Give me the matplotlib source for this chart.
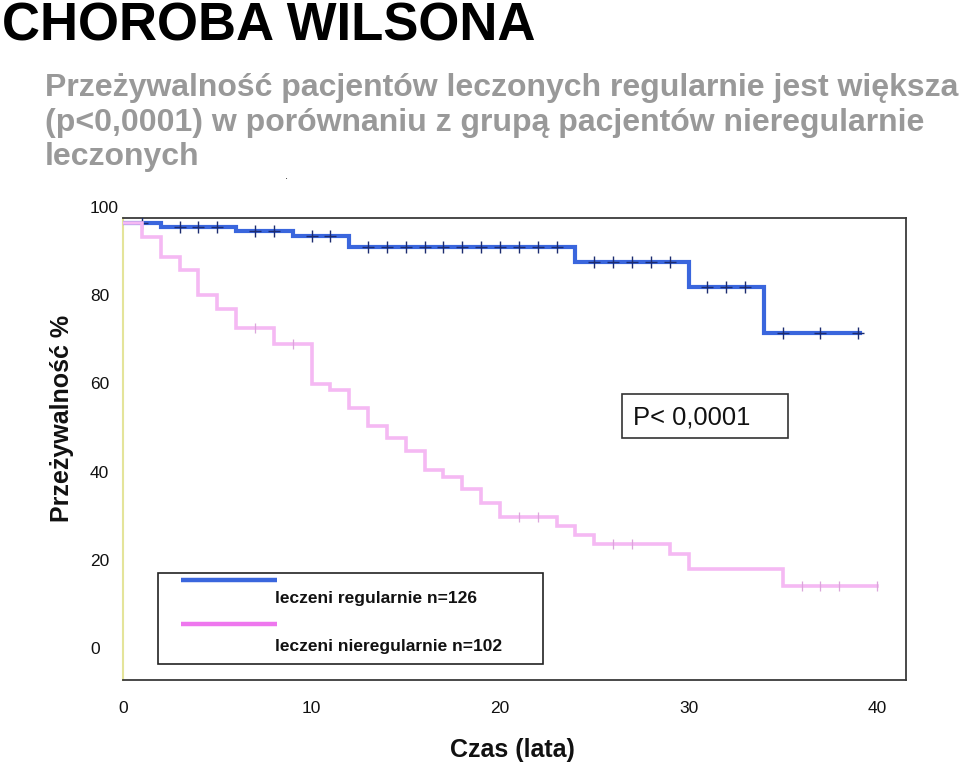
import numpy as np
import matplotlib
matplotlib.use("Agg")
import matplotlib.pyplot as plt
from matplotlib.transforms import ScaledTranslation
from matplotlib.patches import Rectangle
from matplotlib.lines import Line2D

# ---------------- data ----------------
# leczeni regularnie (n=126)
reg_times = [0, 2, 6, 9, 12, 24, 30, 34]
reg_surv = [100, 99.2, 98.2, 97.1, 94.6, 91.2, 85.5, 75.1]
reg_end = 39.1
reg_censor = [1, 3, 4, 5, 7, 8, 10, 11, 13, 14, 15, 16, 17, 18, 19, 20, 21, 22, 23,
              25, 26, 27, 28, 29, 31, 32, 33, 35, 37, 39]

# leczeni nieregularnie (n=102)
irr_times = [0, 1, 2, 3, 4, 5, 6, 8, 10, 11, 12, 13, 14, 15, 16, 17, 18, 19, 20,
             23, 24, 25, 29, 30, 35]
irr_surv = [100, 96.8, 92.4, 89.3, 83.7, 80.5, 76.3, 72.5, 63.5, 62.1, 58.0, 54.0,
            51.2, 48.4, 44.0, 42.5, 39.6, 36.6, 33.4, 31.4, 29.3, 27.3, 24.9, 21.6, 17.8]
irr_end = 40
irr_censor = [7, 9, 21, 22, 26, 27, 36, 37, 38, 40]

x_ticks = [0, 10, 20, 30, 40]
y_ticks = [0, 20, 40, 60, 80, 100]

title = "CHOROBA WILSONA"
subtitle = ["Przeżywalność pacjentów leczonych regularnie jest większa",
            "(p<0,0001) w porównaniu z grupą pacjentów nieregularnie",
            "leczonych"]
legend_labels = ["leczeni regularnie n=126", "leczeni nieregularnie n=102"]
p_text = "P< 0,0001"
xlabel = "Czas (lata)"
ylabel = "Przeżywalność %"

BLUE = "#3a66dd"
PINK_LINE = "#f5b9f3"
PINK_LEG = "#ee77ee"

plt.rcParams['font.family'] = ['Liberation Sans', 'DejaVu Sans']

W, H = 960, 764
fig = plt.figure(figsize=(W / 100, H / 100), dpi=100)

# axes frame in pixel terms
L, R, T, B = 123, 906, 218, 680
ax = fig.add_axes([L / W, 1 - B / H, (R - L) / W, (B - T) / H])

px_per_year = 18.85
px_per_pct = 4.41
y100_px = 223
ax.set_xlim(0, (R - L) / px_per_year)
ax.set_ylim(100 - (B - y100_px) / px_per_pct, 100 + (y100_px - T) / px_per_pct)


def step_val(times, surv, t):
    i = np.searchsorted(times, t, side='right') - 1
    return surv[i]


# curves
ax.step(reg_times + [reg_end], reg_surv + [reg_surv[-1]], where='post',
        color=BLUE, lw=3.0, solid_joinstyle='miter', zorder=3)
ax.plot(reg_censor, [step_val(reg_times, reg_surv, t) for t in reg_censor],
        linestyle='none', marker='+', ms=9, mew=1.0, color='#1c2c70', zorder=4)

ax.step(irr_times + [irr_end], irr_surv + [irr_surv[-1]], where='post',
        color=PINK_LINE, lw=2.6, solid_joinstyle='miter', zorder=5)
ax.plot(irr_censor, [step_val(irr_times, irr_surv, t) for t in irr_censor],
        linestyle='none', marker='|', ms=7, mew=0.9, color='#dba6db', zorder=6)

# spines
for s in ['top', 'right', 'bottom']:
    ax.spines[s].set_color('#3a3a3a')
    ax.spines[s].set_linewidth(1.3)
ax.spines['left'].set_color('#e4e49a')
ax.spines['left'].set_linewidth(1.5)

# ticks
ax.set_xticks(x_ticks)
ax.set_xticklabels([str(v) for v in x_ticks])
ax.set_yticks(y_ticks)
ax.set_yticklabels([str(v) for v in y_ticks])
ax.tick_params(axis='x', length=0, pad=15, labelsize=12.5, labelcolor='#111111')
ax.tick_params(axis='y', length=0, pad=23.8, labelsize=12.5, labelcolor='#111111')
ax.set_yticks([100], minor=True)
ax.tick_params(axis='y', which='minor', length=7, width=1.2, color='#555555', pad=0)
ax.tick_params(axis='x', which='minor', length=0)
shift = ScaledTranslation(0, 16 / 100, fig.dpi_scale_trans)
for lbl in ax.get_yticklabels():
    lbl.set_horizontalalignment('left')
    lbl.set_transform(lbl.get_transform() + shift)

# axis labels
fig.text(62 / W, 1 - 418 / H, ylabel, rotation=90, ha='center', va='center',
         fontsize=18, fontweight='bold', color='#111111')
fig.text(512 / W, 1 - 750 / H, xlabel, ha='center', va='center',
         fontsize=18, fontweight='bold', color='#111111')

# legend (manual, to match layout)
def ax_x(px):
    return (px - L) / (R - L)


def ax_y(py):
    return (B - py) / (B - T)


ax.add_patch(Rectangle((ax_x(158), ax_y(664)), ax_x(543) - ax_x(158), ax_y(573) - ax_y(664),
                       transform=ax.transAxes, fill=True, facecolor='white',
                       edgecolor='#222222', lw=1.2, zorder=7))
for py, col in [(580, BLUE), (624, PINK_LEG)]:
    ax.add_line(Line2D([ax_x(181), ax_x(277)], [ax_y(py), ax_y(py)], transform=ax.transAxes,
                       color=col, lw=3.2, solid_capstyle='butt', zorder=8))
for py, txt in [(599, legend_labels[0]), (647, legend_labels[1])]:
    ax.text(ax_x(275), ax_y(py), txt, transform=ax.transAxes, ha='left', va='center',
            fontsize=12.5, fontweight='bold', color='#111111', zorder=8)

# p-value box
ax.add_patch(Rectangle((ax_x(622), ax_y(438)), ax_x(788) - ax_x(622), ax_y(394) - ax_y(438),
                       transform=ax.transAxes, fill=True, facecolor='white',
                       edgecolor='#333333', lw=1.2, zorder=7))
ax.text(ax_x(633), ax_y(417), p_text, transform=ax.transAxes, ha='left', va='center',
        fontsize=18.4, color='#111111', zorder=8)

# titles
fig.text(2 / W, 1 - 40.5 / H, title, ha='left', va='baseline', fontsize=38,
         fontweight='bold', color='black')
sub_objs = []
for i, (line, ypx) in enumerate(zip(subtitle, [88, 123, 157])):
    sub_objs.append(fig.text(45 / W, 1 - ypx / H, line, ha='left', va='center', fontsize=22,
                             fontweight='bold', color='#999999'))
fig.text(287 / W, 1 - 176 / H, '.', ha='center', va='center', fontsize=8, color='#222222')

# fit subtitle width to the reference
fig.canvas.draw()
r = fig.canvas.get_renderer()


def fit(t, target):
    for _ in range(3):
        w = t.get_window_extent(r).width
        t.set_fontsize(t.get_fontsize() * target / w)


fit(sub_objs[0], 913)
for s in sub_objs[1:]:
    s.set_fontsize(sub_objs[0].get_fontsize())

fig.savefig("out.png", dpi=100)
